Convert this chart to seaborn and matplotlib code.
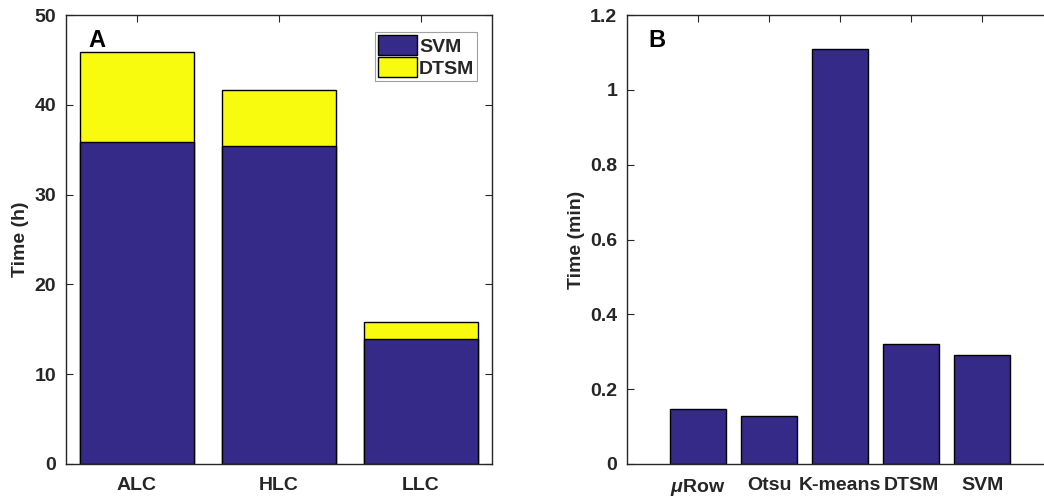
import matplotlib
matplotlib.use('Agg')
import matplotlib.pyplot as plt
import seaborn as sns
import pandas as pd
from matplotlib.ticker import FuncFormatter

# Panel A data: stacked training time (h)
groups = ['ALC', 'HLC', 'LLC']
svm_hours = [35.9, 35.4, 13.9]
dtsm_hours = [10.0, 6.25, 1.9]

# Panel B data: processing time (min)
methods = [r'$\mu$Row', 'Otsu', 'K-means', 'DTSM', 'SVM']
method_minutes = [0.148, 0.128, 1.110, 0.321, 0.291]

blue = '#352a87'
yellow = '#f9fb0e'
spine_col = '#262626'

sns.set_style('white')
plt.rcParams['font.family'] = ['Liberation Sans', 'DejaVu Sans']
plt.rcParams['font.weight'] = 'bold'
plt.rcParams['axes.labelweight'] = 'bold'
plt.rcParams['font.size'] = 14
plt.rcParams['mathtext.fontset'] = 'custom'
plt.rcParams['mathtext.it'] = 'Liberation Sans:italic'
plt.rcParams['mathtext.rm'] = 'Liberation Sans:bold'

fig = plt.figure(figsize=(10.44, 4.99), dpi=100)
W, H = 1044, 499
ax1 = fig.add_axes([66 / W, 35 / H, 426 / W, 449 / H])
ax2 = fig.add_axes([627 / W, 35 / H, 426 / W, 449 / H])

df_a = pd.DataFrame({'group': groups, 'SVM': svm_hours,
                     'total': [s + d for s, d in zip(svm_hours, dtsm_hours)]})

# totals first (yellow), then SVM over it
sns.barplot(data=df_a, x='group', y='total', color=yellow, saturation=1,
            width=0.8, edgecolor='black', linewidth=1, ax=ax1, label='DTSM')
sns.barplot(data=df_a, x='group', y='SVM', color=blue, saturation=1,
            width=0.8, edgecolor='black', linewidth=1, ax=ax1, label='SVM')
ax1.set_xlim(-0.5, 2.5)
ax1.set_ylim(0, 50)
ax1.set_yticks([0, 10, 20, 30, 40, 50])
ax1.set_xlabel('')
ax1.set_ylabel('Time (h)')
handles, labels = ax1.get_legend_handles_labels()
order = [labels.index('SVM'), labels.index('DTSM')]
leg = ax1.legend([handles[i] for i in order], [labels[i] for i in order],
                 loc='upper right', bbox_to_anchor=(0.965, 0.962), borderaxespad=0,
                 fancybox=False, handlelength=2.0, handleheight=1.2,
                 handletextpad=0.1, borderpad=0.15, labelspacing=0.1,
                 prop={'weight': 'bold', 'size': 14})
leg.get_frame().set_edgecolor('#888888')
leg.get_frame().set_linewidth(0.8)
ax1.text(0.052, 0.944, 'A', transform=ax1.transAxes, fontsize=17,
         fontweight='bold', va='center', ha='left', color='black')

df_b = pd.DataFrame({'method': methods, 'minutes': method_minutes})
sns.barplot(data=df_b, x='method', y='minutes', color=blue, saturation=1,
            width=0.8, edgecolor='black', linewidth=1, ax=ax2)
ax2.set_xlim(-1, 5)
ax2.set_ylim(0, 1.2)
ax2.set_yticks([0, 0.2, 0.4, 0.6, 0.8, 1.0, 1.2])
ax2.yaxis.set_major_formatter(FuncFormatter(lambda v, p: '%g' % round(v, 2)))
ax2.set_xlabel('')
ax2.set_ylabel('Time (min)')
ax2.text(0.05, 0.944, 'B', transform=ax2.transAxes, fontsize=17,
         fontweight='bold', va='center', ha='left', color='black')

for ax in (ax1, ax2):
    for s in ax.spines.values():
        s.set_visible(True)
        s.set_color(spine_col)
        s.set_linewidth(1)
    ax.tick_params(axis='both', direction='in', length=5, width=0.8, color=spine_col,
                   top=True, right=True, left=True, bottom=True,
                   labelsize=14, labelcolor='#262626')
    ax.tick_params(axis='x', pad=9)
    ax.tick_params(axis='y', pad=7)
    for t in ax.get_xticklabels() + ax.get_yticklabels():
        t.set_fontweight('bold')
    ax.yaxis.label.set_color('#262626')

fig.savefig('out.png', dpi=100)
